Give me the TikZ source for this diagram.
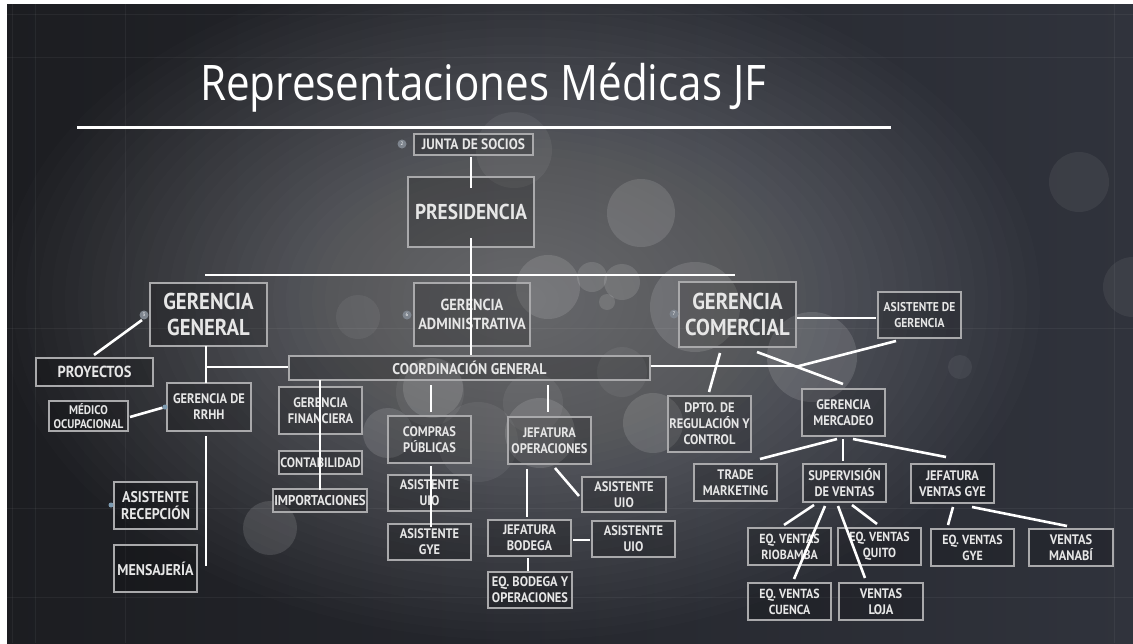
\documentclass[tikz,border=0pt]{standalone}
\usepackage{fontspec}
\setmainfont{PT Sans}
\newfontfamily\boxfont[FakeStretch=0.9]{PT Sans}
\newfontfamily\titlefont[FakeStretch=0.86]{Open Sans}
\definecolor{boxline}{HTML}{A9A9AB}
\definecolor{txt}{HTML}{E6E6E6}
\definecolor{bgL}{HTML}{1C1D21}
\definecolor{bgR}{HTML}{30333C}
\definecolor{markc}{HTML}{7E858E}
\definecolor{dotc}{HTML}{7C9AB0}
\tikzset{
  box/.style={draw=boxline, line width=1.1pt, fill=black, fill opacity=0.18, text opacity=1,
    text=txt, align=center, inner sep=0pt, font=\boxfont\bfseries\fontsize{13.8}{16}\selectfont},
  bigtxt/.style={font=\boxfont\bfseries\fontsize{23}{26}\selectfont},
  midtxt/.style={font=\boxfont\bfseries\fontsize{15.5}{17.5}\selectfont},
  conn/.style={draw=white, line width=2.6pt},
  bubble/.style={fill=white, fill opacity=0.12},
  fbubble/.style={fill=white, fill opacity=0.06},
  gridline/.style={draw=white, opacity=0.05, line width=0.8pt},
  marker/.style={circle, fill=markc, inner sep=0pt, minimum size=9pt, text=white, font=\fontsize{5}{6}\selectfont},
  dotmark/.style={circle, fill=dotc, inner sep=0pt, minimum size=5pt}
}
\begin{document}
\begin{tikzpicture}[x=1pt, y=-1pt]
\useasboundingbox (0,0) rectangle (1133,643);
% background
\fill[white] (0,0) rectangle (1133,643);
\begin{scope}
\clip (7,4) rectangle (1133,643);
\shade[left color=bgL, right color=bgR] (7,4) rectangle (1133,643);
\foreach \r in {1,...,40} \fill[white, fill opacity=0.011] (520,300) ellipse ({\r*13} and {\r*8.5});
% grid
\foreach \gx in {12,35,125,1114} \draw[gridline] (\gx,4) -- (\gx,643);
\foreach \gy in {14,57,328,508,597} \draw[gridline] (7,\gy) -- (1133,\gy);
% bubbles
\fill[bubble] (641,213) circle (34);
\fill[bubble] (548,287) circle (32);
\fill[bubble] (592,277) circle (15);
\fill[bubble] (622,282) circle (18);
\fill[bubble] (607,302) circle (8);
\fill[bubble] (695,307) circle (45);
\fill[bubble] (812,357) circle (45);
\fill[fbubble] (514,150) circle (38);
\fill[fbubble] (358,317) circle (22);
\fill[bubble] (433,388) circle (30);
\fill[fbubble] (533,403) circle (30);
\fill[fbubble] (622,372) circle (25);
\fill[fbubble] (430,392) circle (34);
\fill[bubble] (388,433) circle (25);
\fill[bubble] (540,433) circle (35);
\fill[bubble] (653,423) circle (30);
\fill[fbubble] (478,442) circle (40);
\fill[bubble] (270,528) circle (27);
\fill[fbubble] (1079,182) circle (30);
\fill[fbubble] (1133,287) circle (30);
\fill[fbubble] (960,367) circle (12);
\end{scope}
% title
\node[anchor=base west, text=white, inner sep=0pt, font=\titlefont\fontsize{49}{55}\selectfont] (title) at (200,100) {Representaciones Médicas JF};
\coordinate (tl) at (77,127);
\coordinate (tr) at (891,127);
\draw[draw=white, line width=3pt] (tl) -- (tr);
% boxes
\node[box, minimum width=119pt, minimum height=21pt, font=\boxfont\bfseries\fontsize{15}{17}\selectfont] (junta) at (473.5,144.5) {JUNTA DE SOCIOS};
\node[box, minimum width=126pt, minimum height=70pt, font=\boxfont\bfseries\fontsize{21.5}{24}\selectfont] (pres) at (471,212) {PRESIDENCIA};
\node[box, bigtxt, minimum width=117pt, minimum height=63pt] (gg) at (208.5,314.5) {GERENCIA\\GENERAL};
\node[box, minimum width=116pt, minimum height=63pt, font=\boxfont\bfseries\fontsize{16}{18.5}\selectfont] (gadm) at (472,314.5) {GERENCIA\\ADMINISTRATIVA};
\node[box, bigtxt, minimum width=117pt, minimum height=65pt] (gcom) at (737.5,314.5) {GERENCIA\\COMERCIAL};
\node[box, minimum width=83pt, minimum height=46pt, font=\boxfont\bfseries\fontsize{12.8}{15.5}\selectfont] (asisg) at (919.5,315) {ASISTENTE DE\\GERENCIA};
\node[box, minimum width=361pt, minimum height=24pt, font=\boxfont\bfseries\fontsize{15.5}{17}\selectfont] (coord) at (469.5,368) {COORDINACIÓN GENERAL};
\node[box, minimum width=117pt, minimum height=28pt, font=\boxfont\bfseries\fontsize{16}{18}\selectfont] (proy) at (94.5,372) {PROYECTOS};
\node[box, minimum width=84pt, minimum height=48pt] (rrhh) at (209,407) {GERENCIA DE\\RRHH};
\node[box, minimum width=79pt, minimum height=30pt, font=\boxfont\bfseries\fontsize{12.5}{14.5}\selectfont] (medico) at (88.5,416) {MÉDICO\\OCUPACIONAL};
\node[box, midtxt, minimum width=83pt, minimum height=47pt] (asrec) at (155.5,505.5) {ASISTENTE\\RECEPCIÓN};
\node[box, midtxt, minimum width=83pt, minimum height=47pt] (mens) at (155.5,568.5) {MENSAJERÍA};
\node[box, minimum width=83pt, minimum height=47pt] (gfin) at (320.5,410.5) {GERENCIA\\FINANCIERA};
\node[box, minimum width=83pt, minimum height=23pt, font=\boxfont\bfseries\fontsize{13.7}{15}\selectfont] (conta) at (320.5,462.5) {CONTABILIDAD};
\node[box, minimum width=94pt, minimum height=23pt, font=\boxfont\bfseries\fontsize{14.2}{15}\selectfont] (impo) at (320,500.5) {IMPORTACIONES};
\node[box, minimum width=83pt, minimum height=47pt] (compras) at (429.5,439.5) {COMPRAS\\PÚBLICAS};
\node[box, minimum width=83pt, minimum height=36pt] (auioa) at (429.5,493) {ASISTENTE\\UIO};
\node[box, minimum width=83pt, minimum height=36pt] (agye) at (429.5,542) {ASISTENTE\\GYE};
\node[box, minimum width=83pt, minimum height=47pt] (jop) at (549.5,440.5) {JEFATURA\\OPERACIONES};
\node[box, minimum width=84pt, minimum height=35pt] (auiob) at (624,494.5) {ASISTENTE\\UIO};
\node[box, minimum width=83pt, minimum height=36pt] (jbod) at (529.5,538) {JEFATURA\\BODEGA};
\node[box, minimum width=83pt, minimum height=36pt] (auioc) at (633.5,539) {ASISTENTE\\UIO};
\node[box, minimum width=84pt, minimum height=36pt] (eqbod) at (530,590) {EQ. BODEGA Y\\OPERACIONES};
\node[box, minimum width=83pt, minimum height=56pt] (dpto) at (709.5,424) {DPTO. DE\\REGULACIÓN Y\\CONTROL};
\node[box, minimum width=83pt, minimum height=47pt] (gmer) at (843.5,412.5) {GERENCIA\\MERCADEO};
\node[box, minimum width=83pt, minimum height=37pt] (trade) at (735.5,482.5) {TRADE\\MARKETING};
\node[box, minimum width=83pt, minimum height=38pt] (sup) at (844.5,483) {SUPERVISIÓN\\DE VENTAS};
\node[box, minimum width=83pt, minimum height=39pt] (jvg) at (952.5,483.5) {JEFATURA\\VENTAS GYE};
\node[box, minimum width=83pt, minimum height=37pt, font=\boxfont\bfseries\fontsize{13.2}{16}\selectfont] (riob) at (789.5,546.5) {EQ. VENTAS\\RIOBAMBA};
\node[box, minimum width=83pt, minimum height=37pt, font=\boxfont\bfseries\fontsize{13.2}{16}\selectfont] (quito) at (879.5,546.5) {EQ. VENTAS\\QUITO};
\node[box, minimum width=83pt, minimum height=37pt, font=\boxfont\bfseries\fontsize{13.2}{16}\selectfont] (evgye) at (972.5,547.5) {EQ. VENTAS\\GYE};
\node[box, minimum width=84pt, minimum height=37pt] (manabi) at (1071,547.5) {VENTAS\\MANABÍ};
\node[box, minimum width=83pt, minimum height=37pt, font=\boxfont\bfseries\fontsize{13.2}{16}\selectfont] (cuenca) at (789.5,601.5) {EQ. VENTAS\\CUENCA};
\node[box, minimum width=84pt, minimum height=37pt] (loja) at (881,601.5) {VENTAS\\LOJA};
% markers
\node[marker] (m2) at (402,144) {2};
\node[marker] (m3) at (144,315) {3};
\node[marker] (m6) at (407,315) {6};
\node[marker] (m7) at (674,314) {7};
\node[dotmark] (d1) at (165,407) {};
\node[dotmark] (d2) at (111,505) {};
% connector end points
\coordinate (a1) at (471,157); \coordinate (a2) at (471,188);
\coordinate (b1) at (471,238);
\coordinate (barL) at (205,275); \coordinate (barR) at (735,275);
\coordinate (g1) at (206,346); \coordinate (g2) at (206,383);
\coordinate (g3) at (206,367);
\coordinate (g4) at (206,436); \coordinate (g5) at (206,566);
\coordinate (p1) at (94,355); \coordinate (p2) at (142,320);
\coordinate (mo) at (130,417);
\coordinate (f1) at (320,380); \coordinate (f2) at (320,490);
\coordinate (c1) at (431,385); \coordinate (c2) at (431,412);
\coordinate (c3) at (431,466); \coordinate (c4) at (431,527);
\coordinate (o1) at (548,385); \coordinate (o2) at (548,412);
\coordinate (o3) at (555,468); \coordinate (o4) at (579,496);
\coordinate (o5) at (527,469); \coordinate (o6) at (527,517);
\coordinate (o7) at (573,540); \coordinate (o8) at (590,540);
\coordinate (o9) at (528,558); \coordinate (o10) at (528,571);
\coordinate (k1) at (799,366);
\coordinate (k2) at (896,341);
\coordinate (k3) at (797,318); \coordinate (k4) at (876,318);
\coordinate (k5) at (720,353); \coordinate (k6) at (709,392);
\coordinate (k7) at (757,352); \coordinate (k8) at (843,384);
\coordinate (r1) at (837,439); \coordinate (r2) at (760,459);
\coordinate (r3) at (843,439); \coordinate (r4) at (843,461);
\coordinate (r5) at (853,439); \coordinate (r6) at (946,457);
\coordinate (s1) at (814,505); \coordinate (s2) at (784,525);
\coordinate (s3) at (825,506); \coordinate (s4) at (794,579);
\coordinate (s5) at (838,506); \coordinate (s6) at (865,578);
\coordinate (s7) at (852,505); \coordinate (s8) at (877,524);
\coordinate (j1) at (953,507); \coordinate (j2) at (948,525);
\coordinate (j3) at (972,507); \coordinate (j4) at (1067,526);
% connectors
\draw[conn] (a1) -- (a2);
\draw[conn] (b1) -- (b1 |- coord.north);
\draw[conn] (barL) -- (barR);
\draw[conn] (g1) -- (g2);
\draw[conn] (g3) -- (g3 -| coord.west);
\draw[conn] (g4) -- (g5);
\draw[conn] (p1) -- (p2);
\draw[conn] (mo) -- (d1);
\draw[conn] (f1) -- (f2);
\draw[conn] (c1) -- (c2);
\draw[conn] (c3) -- (c4);
\draw[conn] (o1) -- (o2);
\draw[conn] (o3) -- (o4);
\draw[conn] (o5) -- (o6);
\draw[conn] (o7) -- (o8);
\draw[conn] (o9) -- (o10);
\draw[conn] (k1 -| coord.east) -- (k1);
\draw[conn] (k2) -- (k1);
\draw[conn] (k3) -- (k4);
\draw[conn] (k5) -- (k6);
\draw[conn] (k7) -- (k8);
\draw[conn] (r1) -- (r2);
\draw[conn] (r3) -- (r4);
\draw[conn] (r5) -- (r6);
\draw[conn] (s1) -- (s2);
\draw[conn] (s3) -- (s4);
\draw[conn] (s5) -- (s6);
\draw[conn] (s7) -- (s8);
\draw[conn] (j1) -- (j2);
\draw[conn] (j3) -- (j4);
\end{tikzpicture}
\end{document}
